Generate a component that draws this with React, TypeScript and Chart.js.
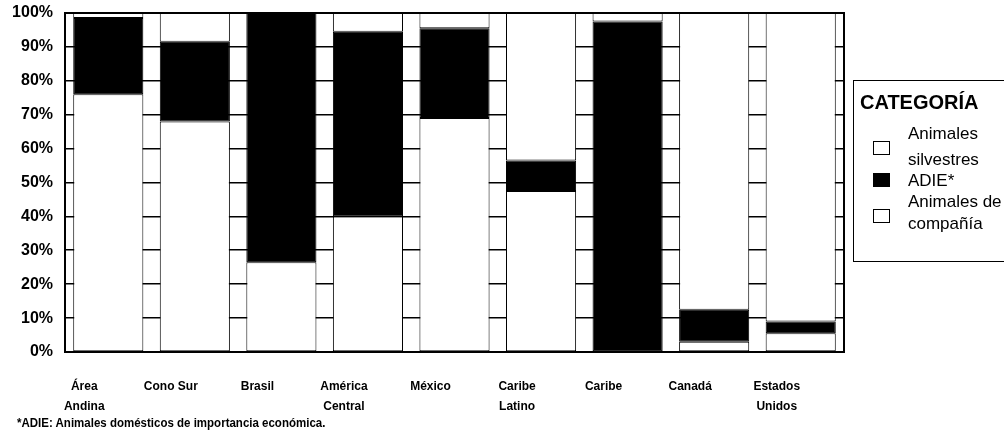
import { useEffect, useRef } from "react";
import { Chart, registerables } from "chart.js";

Chart.register(...registerables);

const categories: string[][] = [
  ["Área", "Andina"],
  ["Cono Sur"],
  ["Brasil"],
  ["América", "Central"],
  ["México"],
  ["Caribe", "Latino"],
  ["Caribe"],
  ["Canadá"],
  ["Estados", "Unidos"],
];

const companiaValues = [76, 68, 26.5, 40, 69, 47.5, 0, 3, 5.5];
const adieValues = [22.5, 23.5, 73.5, 54.5, 26.5, 9, 97.5, 9.5, 3.5];
const silvestresValues = [1.5, 8.5, 0, 5.5, 4.5, 43.5, 2.5, 87.5, 91];

const yTicks = [0, 10, 20, 30, 40, 50, 60, 70, 80, 90, 100];

const legendTitle = "CATEGORÍA";
const footnote = "*ADIE: Animales domésticos de importancia económica.";

const ARIAL = "'Liberation Sans', Arial, sans-serif";

export default function App() {
  const canvasRef = useRef<HTMLCanvasElement | null>(null);

  useEffect(() => {
    if (!canvasRef.current) return;
    const framePlugin = {
      id: "frame",
      afterDraw(chart: any) {
        const { ctx, chartArea } = chart;
        ctx.save();
        ctx.strokeStyle = "#000";
        ctx.lineWidth = 2;
        ctx.strokeRect(chartArea.left, chartArea.top, chartArea.right - chartArea.left, chartArea.bottom - chartArea.top);
        ctx.restore();
      },
    };
    const chart = new Chart(canvasRef.current, {
      type: "bar",
      data: {
        labels: categories,
        datasets: [
          {
            label: "Animales de compañía",
            data: companiaValues,
            backgroundColor: "#ffffff",
            borderColor: "#000000",
            borderWidth: 1,
            borderSkipped: false,
          },
          {
            label: "ADIE*",
            data: adieValues,
            backgroundColor: "#000000",
            borderColor: "#000000",
            borderWidth: 1,
            borderSkipped: false,
          },
          {
            label: "Animales silvestres",
            data: silvestresValues,
            backgroundColor: "#ffffff",
            borderColor: "#000000",
            borderWidth: 1,
            borderSkipped: false,
          },
        ],
      },
      options: {
        animation: false,
        responsive: false,
        devicePixelRatio: 1,
        layout: { padding: { top: 13, right: 160, left: 0, bottom: 0 } },
        datasets: { bar: { categoryPercentage: 1, barPercentage: 0.81 } },
        plugins: {
          legend: { display: false },
          tooltip: { enabled: false },
        },
        scales: {
          x: {
            stacked: true,
            grid: { display: false, drawTicks: false },
            border: { display: true, color: "#000", width: 2 },
            afterFit: (scale: any) => {
              scale.height = 90;
              scale.paddingLeft = 0;
              scale.paddingRight = 0;
            },
            ticks: {
              color: "#000",
              padding: 25,
              labelOffset: -24,
              maxRotation: 0,
              autoSkip: false,
              font: { family: ARIAL, size: 12, weight: "bold", lineHeight: 1.65 },
            },
          },
          y: {
            stacked: true,
            min: 0,
            max: 100,
            afterFit: (scale: any) => {
              scale.width = 65;
              scale.paddingTop = 0;
              scale.paddingBottom = 0;
            },
            afterBuildTicks: (scale: any) => {
              scale.ticks = yTicks.map((v) => ({ value: v }));
            },
            grid: { color: "#000", lineWidth: 1.6, drawTicks: false },
            border: { display: true, color: "#000", width: 2 },
            ticks: {
              color: "#000",
              padding: 12,
              font: { family: ARIAL, size: 16, weight: "bold" },
              callback: (v: any) => `${v}%`,
            },
          },
        },
      },
      plugins: [framePlugin],
    });
    return () => chart.destroy();
  }, []);

  const boxStyle = (fill: string, center: number): React.CSSProperties => ({
    position: "absolute",
    left: 873,
    top: center - 7,
    width: 17,
    height: 14,
    border: "1.5px solid #000",
    background: fill,
    boxSizing: "border-box",
  });
  const textStyle = (center: number): React.CSSProperties => ({
    position: "absolute",
    left: 908,
    top: center - 10,
    fontFamily: ARIAL,
    fontSize: 17,
    lineHeight: "22px",
    color: "#000",
    whiteSpace: "nowrap",
  });

  return (
    <div style={{ position: "fixed", left: 0, top: 0, width: 1004, height: 442, background: "#fff", overflow: "hidden" }}>
      <canvas ref={canvasRef} width={1004} height={442} style={{ position: "absolute", left: 0, top: 0 }} />
      <div
        style={{
          position: "absolute",
          left: 853,
          top: 80,
          width: 170,
          height: 182,
          border: "1.5px solid #000",
          boxSizing: "border-box",
        }}
      />
      <div
        style={{
          position: "absolute",
          left: 860,
          top: 90,
          fontFamily: ARIAL,
          fontWeight: "bold",
          fontSize: 20,
          lineHeight: "24px",
          color: "#000",
          whiteSpace: "nowrap",
        }}
      >
        {legendTitle}
      </div>
      <div style={boxStyle("#fff", 148)} />
      <div style={textStyle(133)}>Animales</div>
      <div style={textStyle(159)}>silvestres</div>
      <div style={boxStyle("#000", 180)} />
      <div style={textStyle(180)}>ADIE*</div>
      <div style={boxStyle("#fff", 216)} />
      <div style={textStyle(201)}>Animales de</div>
      <div style={textStyle(223)}>compañía</div>
      <div
        style={{
          position: "absolute",
          left: 17,
          top: 415,
          fontFamily: ARIAL,
          fontSize: 13,
          fontWeight: "bold",
          lineHeight: "16px",
          color: "#000",
          whiteSpace: "nowrap",
          transform: "scaleX(0.885)",
          transformOrigin: "left center",
        }}
      >
        {footnote}
      </div>
    </div>
  );
}
